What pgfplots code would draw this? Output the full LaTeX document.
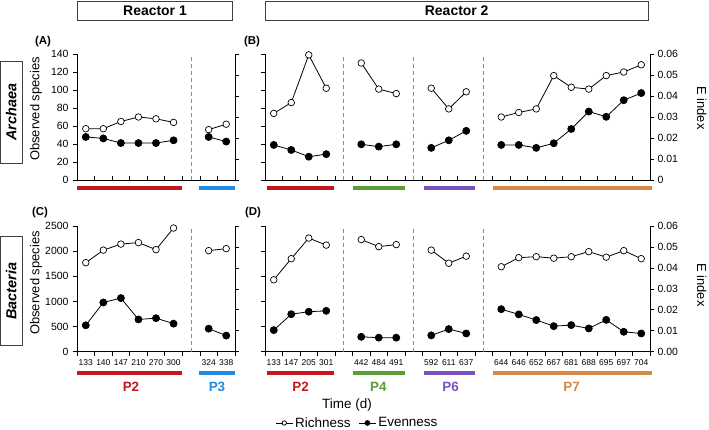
\documentclass[border=0pt]{standalone}
\usepackage{pgfplots}
\pgfplotsset{compat=1.18}
\usepackage{fontspec}
\setmainfont{Liberation Sans}
\definecolor{cP2}{HTML}{C4161C}
\definecolor{cP3}{HTML}{1E8CE6}
\definecolor{cP4}{HTML}{5A9E3A}
\definecolor{cP6}{HTML}{7A52C0}
\definecolor{cP7}{HTML}{D4884A}
\definecolor{dashgray}{HTML}{8A8A8A}
\pgfplotsset{
 panel/.style={scale only axis, clip=false,
   /pgf/number format/assume math mode=true,
   /pgf/number format/1000 sep={}, scaled ticks=false,
   axis line style={black, line width=0.8pt, -},
   tick style={black, line width=0.7pt},
   major tick length=4bp,
   ticklabel style={font=\fontsize{10.5}{12}\selectfont},
   ymin=0},
 topA/.style={panel, at={(77bp,-180bp)}, anchor=south west, width=158bp, height=126bp, xmin=0, xmax=9},
 topB/.style={panel, at={(265bp,-180bp)}, anchor=south west, width=385bp, height=126bp, xmin=0, xmax=22},
 botC/.style={panel, at={(77bp,-351.7bp)}, anchor=south west, width=158bp, height=125.7bp, xmin=0, xmax=9},
 botD/.style={panel, at={(265bp,-351.7bp)}, anchor=south west, width=385bp, height=125.7bp, xmin=0, xmax=22},
 rich/.style={black, line width=0.8pt, mark=*, mark size=3.3bp, mark options={fill=white, solid, line width=0.7pt}, forget plot},
 even/.style={black, line width=0.8pt, mark=*, mark size=3.5bp, mark options={fill=black, solid}, forget plot},
 leftR/.style={axis y line*=left, axis x line=none, tick align=outside},
 rightE/.style={axis y line*=right, axis x line=none, tick align=outside, ymax=0.06,
   ytick={0,0.01,0.02,0.03,0.04,0.05,0.06}},
 xin/.style={axis x line*=bottom, axis y line=none, tick align=inside},
 richtop/.style={ymax=140, ytick={0,20,40,60,80,100,120,140}},
 richbot/.style={ymax=2500, ytick={0,500,1000,1500,2000,2500}},
 xlab/.style={xticklabels={}, extra x tick style={tick style={draw=none}},
   extra x tick labels={#1}},
}
\tikzset{dashl/.style={dashgray, line width=0.8pt, dash pattern=on 4bp off 3bp}}
\begin{document}
\begin{tikzpicture}
\useasboundingbox (0,0) rectangle (709bp,-430bp);
% ---------------- Panel A ----------------
\begin{axis}[topA, leftR, richtop, yticklabel style={xshift=-1bp}]
 \addplot[rich] coordinates {(0.5,57)(1.5,57)(2.5,65)(3.5,70)(4.5,68)(5.5,64)};
 \addplot[rich] coordinates {(7.5,56)(8.5,62)};
 \draw[dashl] (axis cs:6.5,0) -- (axis cs:6.5,140);
\end{axis}
\begin{axis}[topA, xin, ymax=140, xtick={0,1,...,9}, xticklabels={}]
\end{axis}
\begin{axis}[topA, rightE, yticklabels={}]
 \addplot[even] coordinates {(0.5,0.0205)(1.5,0.0198)(2.5,0.0176)(3.5,0.0176)(4.5,0.0176)(5.5,0.0189)};
 \addplot[even] coordinates {(7.5,0.0205)(8.5,0.0183)};
\end{axis}
% ---------------- Panel B ----------------
\begin{axis}[topB, leftR, richtop, yticklabels={}]
 \addplot[rich] coordinates {(0.5,74)(1.5,86)(2.5,139)(3.5,102)};
 \addplot[rich] coordinates {(5.5,130)(6.5,101)(7.5,96)};
 \addplot[rich] coordinates {(9.5,102)(10.5,79)(11.5,98)};
 \addplot[rich] coordinates {(13.5,70)(14.5,75)(15.5,79)(16.5,116)(17.5,103)(18.5,101)(19.5,116)(20.5,120)(21.5,128)};
 \draw[dashl] (axis cs:4.5,0) -- (axis cs:4.5,140);
 \draw[dashl] (axis cs:8.5,0) -- (axis cs:8.5,140);
 \draw[dashl] (axis cs:12.5,0) -- (axis cs:12.5,140);
\end{axis}
\begin{axis}[topB, xin, ymax=140, xtick={0,1,...,22}, xticklabels={}]
\end{axis}
\begin{axis}[topB, rightE, yticklabels={0,0.01,0.02,0.03,0.04,0.05,0.06}]
 \addplot[even] coordinates {(0.5,0.0167)(1.5,0.0143)(2.5,0.0111)(3.5,0.0123)};
 \addplot[even] coordinates {(5.5,0.0170)(6.5,0.0159)(7.5,0.0170)};
 \addplot[even] coordinates {(9.5,0.0153)(10.5,0.0189)(11.5,0.0234)};
 \addplot[even] coordinates {(13.5,0.0167)(14.5,0.0167)(15.5,0.0153)(16.5,0.0175)(17.5,0.0243)(18.5,0.0326)(19.5,0.0301)(20.5,0.0380)(21.5,0.0414)};
\end{axis}
% ---------------- Panel C ----------------
\begin{axis}[botC, axis y line*=left, axis x line*=bottom, tick align=outside, richbot,
   yticklabel style={xshift=-1bp},
   xtick={0,1,...,9}, extra x ticks={0.5,1.5,2.5,3.5,4.5,5.5,7.5,8.5},
   xlab={133,140,147,210,270,300,324,338},
   xticklabel style={font=\fontsize{8.5}{10}\selectfont}]
 \addplot[rich] coordinates {(0.5,1770)(1.5,2020)(2.5,2140)(3.5,2170)(4.5,2030)(5.5,2460)};
 \addplot[rich] coordinates {(7.5,2010)(8.5,2050)};
 \draw[dashl] (axis cs:6.5,0) -- (axis cs:6.5,2500);
\end{axis}
\begin{axis}[botC, rightE, yticklabels={}]
 \addplot[even] coordinates {(0.5,0.0126)(1.5,0.0235)(2.5,0.0256)(3.5,0.0154)(4.5,0.0160)(5.5,0.0134)};
 \addplot[even] coordinates {(7.5,0.0110)(8.5,0.0077)};
\end{axis}
% ---------------- Panel D ----------------
\begin{axis}[botD, axis y line*=left, axis x line*=bottom, tick align=outside, richbot,
   yticklabels={},
   xtick={0,1,...,22},
   extra x ticks={0.5,1.5,2.5,3.5,5.5,6.5,7.5,9.5,10.5,11.5,13.5,14.5,15.5,16.5,17.5,18.5,19.5,20.5,21.5},
   xlab={133,147,205,301,442,484,491,592,611,637,644,646,652,667,681,688,695,697,704},
   xticklabel style={font=\fontsize{8.5}{10}\selectfont},
   legend style={at={(0.24,-0.567)}, anchor=center, draw=none, fill=none,
     legend columns=2, font=\fontsize{13.5}{15}\selectfont,
     /tikz/every even column/.append style={column sep=6bp},
     legend cell align=left, inner sep=0pt}]
 \addplot[rich] coordinates {(0.5,1430)(1.5,1850)(2.5,2260)(3.5,2120)};
 \addplot[rich] coordinates {(5.5,2230)(6.5,2090)(7.5,2130)};
 \addplot[rich] coordinates {(9.5,2020)(10.5,1760)(11.5,1900)};
 \addplot[rich] coordinates {(13.5,1690)(14.5,1870)(15.5,1890)(16.5,1860)(17.5,1890)(18.5,1990)(19.5,1880)(20.5,2010)(21.5,1850)};
 \draw[dashl] (axis cs:4.5,0) -- (axis cs:4.5,2500);
 \draw[dashl] (axis cs:8.5,0) -- (axis cs:8.5,2500);
 \draw[dashl] (axis cs:12.5,0) -- (axis cs:12.5,2500);
 \addlegendimage{black, line width=0.8pt, mark=*, mark size=2.2bp, mark options={fill=white, solid}}
 \addlegendimage{black, line width=0.8pt, mark=*, mark size=2.4bp, mark options={fill=black, solid}}
 \legend{Richness, Evenness}
\end{axis}
\begin{axis}[botD, rightE, yticklabels={0.00,0.01,0.02,0.03,0.04,0.05,0.06}]
 \addplot[even] coordinates {(0.5,0.0103)(1.5,0.0179)(2.5,0.0191)(3.5,0.0195)};
 \addplot[even] coordinates {(5.5,0.0071)(6.5,0.0067)(7.5,0.0067)};
 \addplot[even] coordinates {(9.5,0.0078)(10.5,0.0108)(11.5,0.0087)};
 \addplot[even] coordinates {(13.5,0.0203)(14.5,0.0178)(15.5,0.0151)(16.5,0.0122)(17.5,0.0127)(18.5,0.0111)(19.5,0.0152)(20.5,0.0095)(21.5,0.0087)};
\end{axis}
% ---------------- Annotations ----------------
\tikzset{hdr/.style={draw=black!75, line width=0.8pt, inner sep=0pt, font=\bfseries\fontsize{14}{16}\selectfont}}
\node[hdr, minimum width=154.6bp, minimum height=19.5bp] at (155bp,-11bp) {Reactor 1};
\node[hdr, minimum width=383.3bp, minimum height=19.5bp] at (456.7bp,-11bp) {Reactor 2};
\tikzset{side/.style={draw=black!75, line width=0.8pt, inner sep=0pt, rotate=90, minimum height=22bp, font=\bfseries\itshape\fontsize{14.5}{16}\selectfont}}
\node[side, minimum width=102bp] at (11.3bp,-112bp) {Archaea};
\node[side, minimum width=109bp] at (11.3bp,-291bp) {Bacteria};
\tikzset{plab/.style={font=\bfseries\fontsize{11.5}{13}\selectfont}}
\node[plab] at (43bp,-42bp) {(A)};
\node[plab] at (252bp,-42bp) {(B)};
\node[plab] at (40bp,-213bp) {(C)};
\node[plab] at (253bp,-213bp) {(D)};
\tikzset{alab/.style={font=\fontsize{13}{15}\selectfont}}
\node[alab, rotate=90] at (36bp,-109bp) {Observed species};
\node[alab, rotate=90] at (36bp,-283bp) {Observed species};
\node[alab, rotate=-90] at (701.7bp,-108bp) {E index};
\node[alab, rotate=-90] at (701.7bp,-285bp) {E index};
\node[font=\fontsize{13.5}{15}\selectfont] at (347bp,-405bp) {Time (d)};
% period bars
\foreach \y in {187.5,372.5}{
 \draw[cP2, line width=4bp] (77bp,-\y bp) -- (182bp,-\y bp);
 \draw[cP3, line width=4bp] (199bp,-\y bp) -- (235bp,-\y bp);
 \draw[cP2, line width=4bp] (267bp,-\y bp) -- (334bp,-\y bp);
 \draw[cP4, line width=4bp] (353bp,-\y bp) -- (405bp,-\y bp);
 \draw[cP6, line width=4bp] (424bp,-\y bp) -- (475bp,-\y bp);
 \draw[cP7, line width=4bp] (493bp,-\y bp) -- (652bp,-\y bp);
}
\tikzset{plbl/.style={font=\bfseries\fontsize{13.5}{15}\selectfont}}
\node[plbl, text=cP2] at (131bp,-387bp) {P2};
\node[plbl, text=cP3] at (217bp,-387bp) {P3};
\node[plbl, text=cP2] at (300.7bp,-387bp) {P2};
\node[plbl, text=cP4] at (378.3bp,-387bp) {P4};
\node[plbl, text=cP6] at (450.7bp,-387bp) {P6};
\node[plbl, text=cP7] at (571.7bp,-387bp) {P7};
\end{tikzpicture}
\end{document}
